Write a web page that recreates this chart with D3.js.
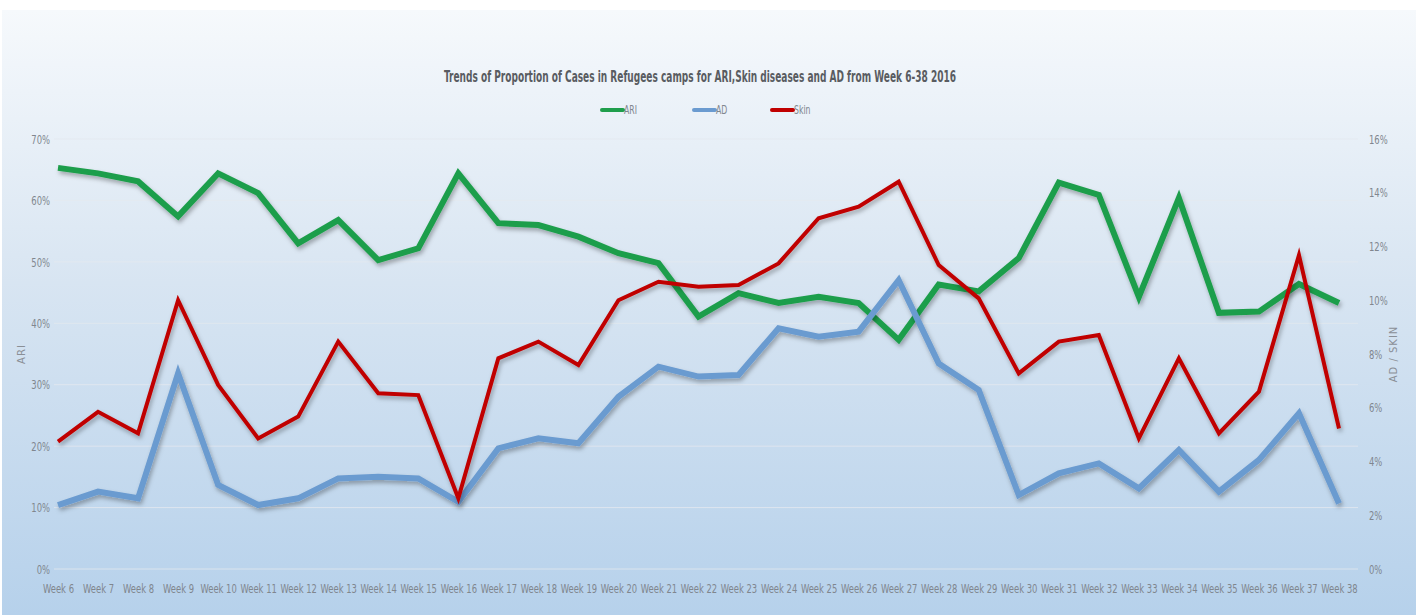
<!DOCTYPE html>
<html>
<head>
<meta charset="utf-8">
<script src="https://cdn.jsdelivr.net/npm/d3@7"></script>
<style>
  body { margin: 0; background: #fff; }
  text { font-family: "DejaVu Sans Condensed", "Liberation Sans", sans-serif; }
</style>
</head>
<body>
<div id="chart-area"></div>
<script>
// data
var weeks = ["Week 6","Week 7","Week 8","Week 9","Week 10","Week 11","Week 12","Week 13","Week 14",
    "Week 15","Week 16","Week 17","Week 18","Week 19","Week 20","Week 21","Week 22","Week 23","Week 24",
    "Week 25","Week 26","Week 27","Week 28","Week 29","Week 30","Week 31","Week 32","Week 33","Week 34",
    "Week 35","Week 36","Week 37","Week 38"];
var ari = [0.653,0.644,0.631,0.574,0.644,0.612,0.530,0.568,0.503,0.522,0.644,0.563,0.560,0.541,0.514,0.498,0.411,
    0.449,0.433,0.443,0.433,0.373,0.463,0.452,0.506,0.629,0.609,0.443,0.604,0.417,0.419,0.464,0.433];
var ad = [0.0238,0.0288,0.0263,0.0728,0.0313,0.0238,0.0263,0.0337,0.0343,0.0337,0.0250,0.0449,0.0486,0.0468,0.0641,
    0.0753,0.0716,0.0722,0.0896,0.0864,0.0883,0.1075,0.0765,0.0666,0.0275,0.0356,0.0393,0.0300,0.0443,0.0288,0.0406,0.0579,0.0244];
var skin = [0.0474,0.0585,0.0505,0.1000,0.0685,0.0486,0.0567,0.0846,0.0654,0.0647,0.0263,0.0784,0.0846,0.0759,0.1000,
    0.1069,0.1050,0.1057,0.1137,0.1305,0.1348,0.1441,0.1131,0.1007,0.0728,0.0846,0.0871,0.0486,0.0784,0.0505,0.0660,0.1168,0.0523];
var leftTicks = [0,0.1,0.2,0.3,0.4,0.5,0.6,0.7];
var rightTicks = [0,0.02,0.04,0.06,0.08,0.1,0.12,0.14,0.16];

var W = 1418, H = 615;
var svg = d3.select("#chart-area").append("svg")
    .attr("width", W).attr("height", H);

var defs = svg.append("defs");
var grad = defs.append("linearGradient").attr("id", "bg")
    .attr("x1", 0).attr("y1", 0).attr("x2", 0).attr("y2", 1);
grad.append("stop").attr("offset", "0%").attr("stop-color", "#f6f9fc");
grad.append("stop").attr("offset", "45%").attr("stop-color", "#d8e5f2");
grad.append("stop").attr("offset", "100%").attr("stop-color", "#b6d1eb");

var shadow = defs.append("filter").attr("id", "shadow")
    .attr("x", "-5%").attr("y", "-10%").attr("width", "110%").attr("height", "130%");
shadow.append("feDropShadow").attr("dx", 1.5).attr("dy", 3).attr("stdDeviation", 2)
    .attr("flood-color", "#000").attr("flood-opacity", 0.3);

svg.append("rect")
    .attr("x", 2).attr("y", 10).attr("width", 1414).attr("height", 605)
    .attr("fill", "url(#bg)");

// Scales
var x = d3.scalePoint().domain(weeks).range([58, 1339]);
var yL = d3.scaleLinear().domain([0, 0.7]).range([569, 139]);
var yR = d3.scaleLinear().domain([0, 0.16]).range([569, 139]);

// Gridlines
svg.append("g").selectAll("line").data(leftTicks).enter().append("line")
    .attr("x1", 54).attr("x2", 1358)
    .attr("y1", function(d){ return yL(d); })
    .attr("y2", function(d){ return yL(d); })
    .attr("stroke", "#e4e9ef").attr("stroke-opacity", 0.8).attr("stroke-width", 1);

// squeeze tick text horizontally, like the narrow font of the original
function narrow(sel, size) {
    sel.selectAll("text")
        .attr("fill", "#80868e")
        .attr("font-size", size)
        .attr("transform", "scale(0.72,1)");
}

// Left axis
var leftAxis = d3.axisLeft(yL).tickValues(leftTicks).tickFormat(d3.format(".0%")).tickSize(0).tickPadding(0);
var gl = svg.append("g").attr("transform", "translate(50,0)").call(leftAxis);
gl.select(".domain").remove();
narrow(gl, "13px");

// Right axis
var rightAxis = d3.axisRight(yR).tickValues(rightTicks).tickFormat(d3.format(".0%")).tickSize(0).tickPadding(0);
var gr = svg.append("g").attr("transform", "translate(1369,0)").call(rightAxis);
gr.select(".domain").remove();
narrow(gr, "13px");

// X axis
var xAxis = d3.axisBottom(x).tickSize(0).tickPadding(0);
var gx = svg.append("g").attr("transform", "translate(0,584)").call(xAxis);
gx.select(".domain").remove();
narrow(gx, "13px");

// Axis titles
svg.append("text")
    .attr("transform", "translate(25,354) rotate(-90)")
    .attr("text-anchor", "middle")
    .attr("fill", "#8a8f96").attr("font-size", "10px")
    .attr("letter-spacing", "1px")
    .style("font-family", "'DejaVu Sans', sans-serif")
    .text("ARI");
svg.append("text")
    .attr("transform", "translate(1397,354) rotate(-90)")
    .attr("text-anchor", "middle")
    .attr("fill", "#8a8f96").attr("font-size", "10px")
    .attr("letter-spacing", "1px")
    .style("font-family", "'DejaVu Sans', sans-serif")
    .text("AD / SKIN");

// Title
svg.append("text")
    .attr("x", 700).attr("y", 82)
    .attr("text-anchor", "middle")
    .attr("fill", "#595c61").attr("font-size", "15px").attr("font-weight", "bold")
    .attr("textLength", 512).attr("lengthAdjust", "spacingAndGlyphs")
    .text("Trends of Proportion of Cases in Refugees camps for ARI,Skin diseases and AD from Week  6-38 2016");

// Lines
var series = [
    { name: "ARI", values: ari, scale: yL, color: "#1f9e4c", width: 6 },
    { name: "AD", values: ad, scale: yR, color: "#6b9bd0", width: 6 },
    { name: "Skin", values: skin, scale: yR, color: "#c00000", width: 4 }
];

series.forEach(function(s) {
    var line = d3.line()
        .x(function(d, i){ return x(weeks[i]); })
        .y(function(d){ return s.scale(d); });
    svg.append("path")
        .attr("class", "line")
        .attr("fill", "none")
        .attr("stroke", s.color)
        .attr("stroke-width", s.width)
        .attr("stroke-linejoin", "miter")
        .attr("filter", "url(#shadow)")
        .attr("d", line(s.values));
});

// Legend
var legendX = [602, 694, 772];
var legend = svg.append("g");
series.forEach(function(s, i) {
    var lg = legend.append("g").attr("transform", "translate(" + legendX[i] + ",110)");
    lg.append("line")
        .attr("x1", 0).attr("x2", 21)
        .attr("stroke", s.color).attr("stroke-width", 4).attr("stroke-linecap", "round");
    lg.append("text")
        .attr("x", 22).attr("y", 4)
        .attr("fill", "#80868e").attr("font-size", "12px")
        .attr("transform", "translate(22,0) scale(0.72,1) translate(-22,0)")
        .text(s.name);
});
</script>
</body>
</html>
